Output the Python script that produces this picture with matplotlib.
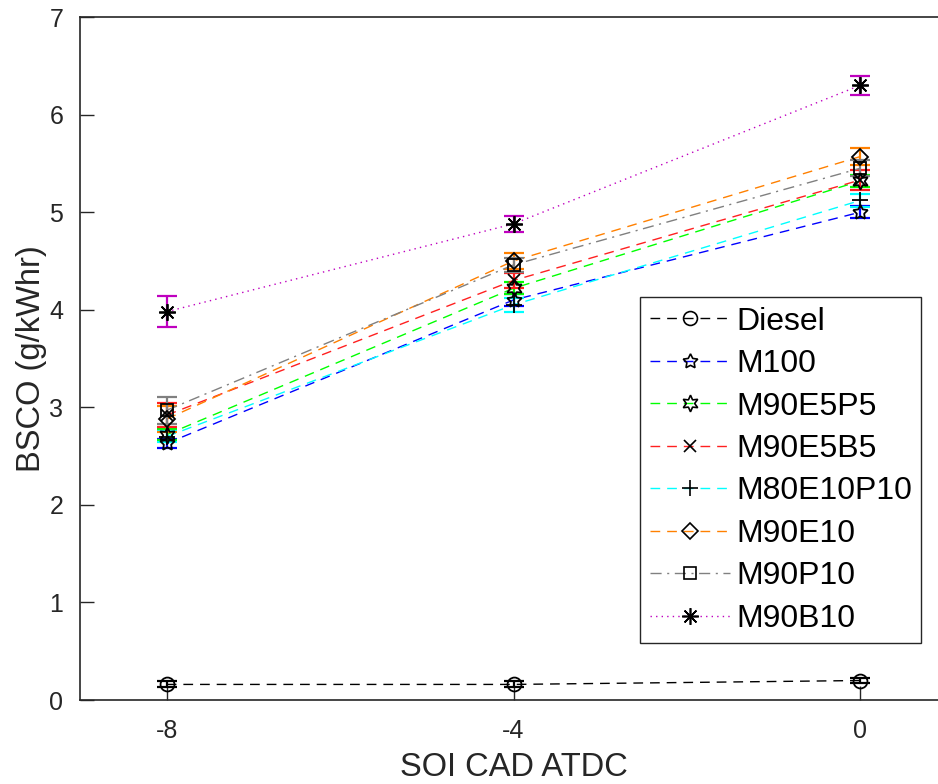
import numpy as np
import matplotlib
matplotlib.use("Agg")
from matplotlib import pyplot as plt

plt.rcParams["font.family"] = ["Liberation Sans", "DejaVu Sans"]
plt.rcParams["axes.unicode_minus"] = False

soi = [-8, -4, 0]
labels = ["Diesel", "M100", "M90E5P5", "M90E5B5", "M80E10P10", "M90E10", "M90P10", "M90B10"]

diesel = [0.16, 0.16, 0.20]
m100 = [2.63, 4.10, 5.00]
m90e5p5 = [2.72, 4.22, 5.32]
m90e5b5 = [2.92, 4.30, 5.33]
m80e10p10 = [2.70, 4.05, 5.12]
m90e10 = [2.88, 4.50, 5.57]
m90p10 = [2.97, 4.46, 5.45]
m90b10 = [3.98, 4.88, 6.30]

diesel_err = [0.03, 0.03, 0.03]
m100_err = [0.05, 0.06, 0.06]
m90e5p5_err = [0.06, 0.06, 0.06]
m90e5b5_err = [0.12, 0.08, 0.10]
m80e10p10_err = [0.06, 0.07, 0.07]
m90e10_err = [0.13, 0.08, 0.09]
m90p10_err = [0.14, 0.07, 0.08]
m90b10_err = [0.16, 0.085, 0.10]

values = [diesel, m100, m90e5p5, m90e5b5, m80e10p10, m90e10, m90p10, m90b10]
errors = [diesel_err, m100_err, m90e5p5_err, m90e5b5_err, m80e10p10_err, m90e10_err, m90p10_err, m90b10_err]

colors = ["black", "blue", "#00ff00", "#ff2020", "cyan", "#ff8000", "#808080", "#bf00bf"]
markers = ["o", (5, 1, 0), (6, 1, 0), "x", "+", "D", "s", (8, 2, 0)]
msizes = [10, 11, 12, 9, 12, 8, 8, 12]
dash = (0, (7, 5))
styles = [dash, dash, dash, dash, dash, dash, (0, (8, 4, 1.5, 4)), (0, (1, 3))]

fig = plt.figure(figsize=(9.38, 7.84), dpi=100)
ax = fig.add_axes([0.0853, 0.1071, 0.9243, 0.8712])

for y, e, c, ls in zip(values, errors, colors, styles):
    ax.errorbar(soi, y, yerr=e, fmt="none", ecolor=c, elinewidth=1.6, capsize=7, capthick=1.6)
    ax.plot(soi, y, color=c, linestyle=ls, linewidth=1.0)
for y, m, ms in zip(values, markers, msizes):
    ax.plot(soi, y, linestyle="none", marker=m, markersize=ms, markerfacecolor="none",
            markeredgecolor="black", markeredgewidth=1.3)

# legend proxies
handles = []
for c, m, ms, ls, lab in zip(colors, markers, msizes, styles, labels):
    h, = ax.plot([], [], color=c, linestyle=ls, linewidth=1.0, marker=m, markersize=ms,
                 markerfacecolor="none", markeredgecolor="black", markeredgewidth=1.2, label=lab)
    handles.append(h)

leg = ax.legend(handles=handles, loc="upper left", bbox_to_anchor=(0.646, 0.590), borderaxespad=0,
                fontsize=23, handlelength=2.5, labelspacing=0.39, handletextpad=0.2,
                borderpad=0.3, fancybox=False, framealpha=1, edgecolor="#262626")
leg.get_frame().set_linewidth(1.0)

ax.set_xlim(-9, 1)
ax.set_ylim(0, 7)
ax.set_xticks([-8, -4, 0])
ax.set_yticks(range(0, 8))
ax.tick_params(direction="in", length=10, width=1, labelsize=18, colors="#262626")
ax.tick_params(axis="x", pad=14)
ax.tick_params(axis="y", pad=12)
ax.set_xlabel("SOI CAD ATDC", fontsize=23.5, color="#262626", labelpad=6)
ax.set_ylabel("BSCO (g/kWhr)", fontsize=23.5, color="#262626", labelpad=2)
for s in ax.spines.values():
    s.set_color("#262626")
    s.set_linewidth(1.2)

fig.savefig("out.png", dpi=100)
